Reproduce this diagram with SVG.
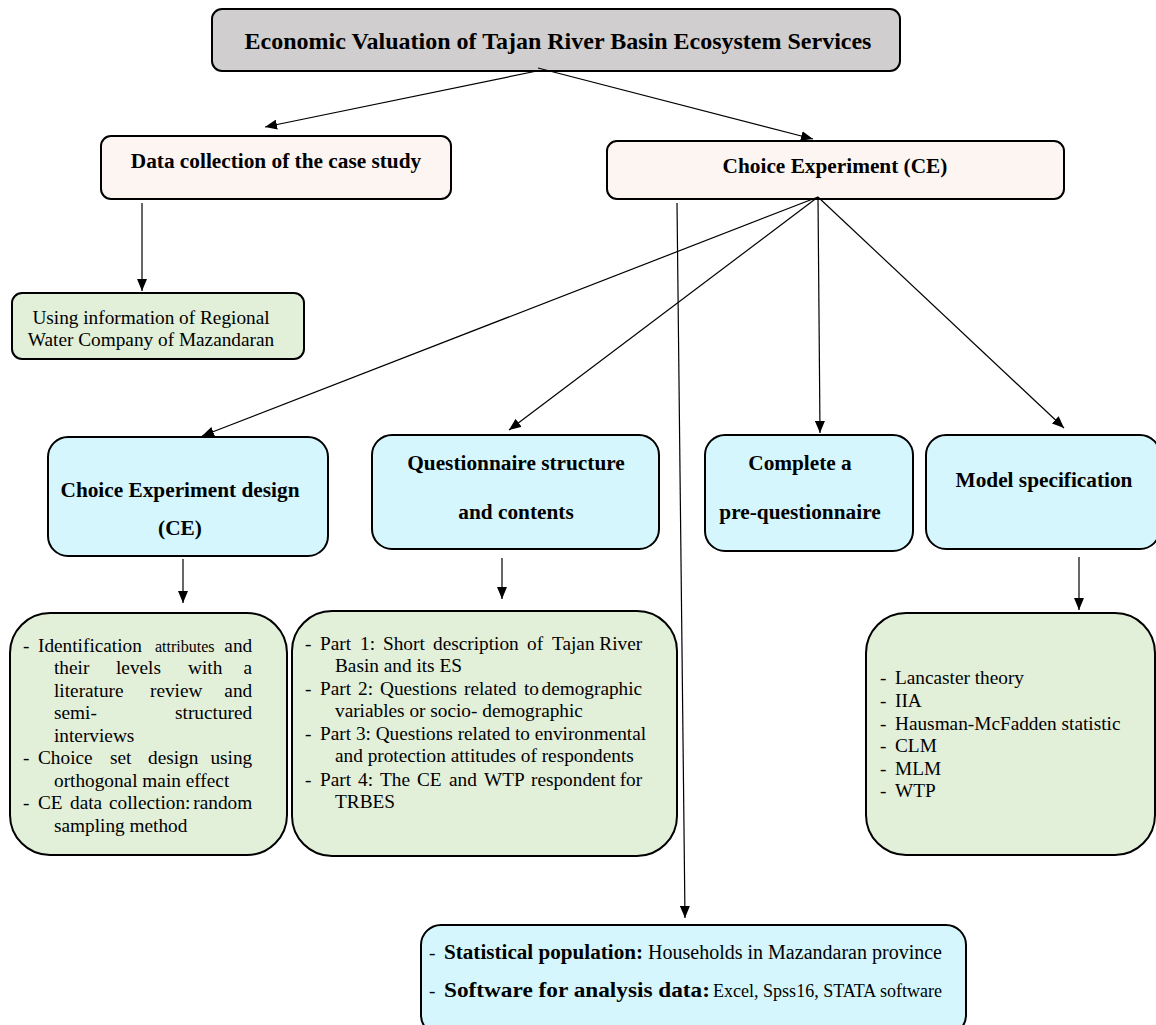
<svg xmlns="http://www.w3.org/2000/svg" width="1156" height="1025" viewBox="0 0 1156 1025">
<style>
.box{stroke:#000;stroke-width:2}
.grey{fill:#d0cece}
.peach{fill:#fdf5f1}
.blue{fill:#d4f6fc}
.green{fill:#e2efd9}
.h{font-family:"Liberation Serif","Times New Roman",serif;font-weight:bold;font-size:21.3px;fill:#000}
.t{font-family:"Liberation Serif","Times New Roman",serif;font-size:19.3px;fill:#000}
.c{text-anchor:middle}
.e{text-anchor:end}
.conn line{stroke:#000;stroke-width:1.2;fill:none}
</style>
<defs>
<marker id="ah" markerWidth="12" markerHeight="10" refX="12" refY="5" orient="auto" markerUnits="userSpaceOnUse">
<path d="M0,0 L12,5 L0,10 z" fill="#000"/>
</marker>
</defs>
<rect width="1156" height="1025" fill="#fff"/>

<g id="title">
<rect class="box grey" x="212" y="9" width="688" height="62" rx="10"/>
<text class="h c" x="558" y="49" style="font-size:24px">Economic Valuation of Tajan River Basin Ecosystem Services</text>
</g>

<g id="data-collection">
<rect class="box peach" x="101" y="136" width="350" height="63" rx="10"/>
<text class="h c" x="276" y="168">Data collection of the case study</text>
</g>

<g id="choice-experiment">
<rect class="box peach" x="607" y="141" width="457" height="58" rx="10"/>
<text class="h c" x="835" y="173">Choice Experiment (CE)</text>
</g>

<g id="regional-water">
<rect class="box green" x="12" y="293" width="292" height="66" rx="10"/>
<text class="t c" x="151" y="324">Using information of Regional</text>
<text class="t c" x="151" y="346">Water Company of Mazandaran</text>
</g>

<g id="ce-design">
<rect class="box blue" x="48" y="437" width="280" height="119" rx="20"/>
<text class="h c" x="180" y="497">Choice Experiment design</text>
<text class="h c" x="180" y="535">(CE)</text>
</g>

<g id="questionnaire">
<rect class="box blue" x="372" y="435" width="287" height="114" rx="20"/>
<text class="h c" x="516" y="470">Questionnaire structure</text>
<text class="h c" x="516" y="519">and contents</text>
</g>

<g id="pre-questionnaire">
<rect class="box blue" x="705" y="435" width="208" height="116" rx="20"/>
<text class="h c" x="800" y="470">Complete a</text>
<text class="h c" x="800" y="519">pre-questionnaire</text>
</g>

<g id="model-spec">
<rect class="box blue" x="926" y="435" width="234" height="114" rx="20"/>
<text class="h c" x="1044" y="487">Model specification</text>
</g>

<g id="ce-design-details">
<rect class="box green" x="10" y="613" width="277" height="242" rx="40"/>
<text class="t">
<tspan x="23" y="652">-</tspan><tspan x="38" y="652">Identification</tspan><tspan x="155" y="652" style="font-size:16px">attributes</tspan><tspan x="257" y="652" class="e">and</tspan>
<tspan x="54" y="674">their</tspan><tspan x="116" y="674">levels</tspan><tspan x="188" y="674">with</tspan><tspan x="257" y="674" class="e">a</tspan>
<tspan x="54" y="697">literature</tspan><tspan x="150" y="697">review</tspan><tspan x="257" y="697" class="e">and</tspan>
<tspan x="54" y="719">semi-</tspan><tspan x="257" y="719" class="e">structured</tspan>
<tspan x="54" y="742">interviews</tspan>
<tspan x="23" y="764">-</tspan><tspan x="38" y="764">Choice</tspan><tspan x="110" y="764">set</tspan><tspan x="148" y="764">design</tspan><tspan x="257" y="764" class="e">using</tspan>
<tspan x="54" y="787">orthogonal main effect</tspan>
<tspan x="23" y="809">-</tspan><tspan x="38" y="809">CE</tspan><tspan x="70" y="809">data</tspan><tspan x="109" y="809">collection:</tspan><tspan x="257" y="809" class="e">random</tspan>
<tspan x="54" y="832">sampling method</tspan>
</text>
</g>

<g id="questionnaire-details">
<rect class="box green" x="292" y="611" width="385" height="245" rx="40"/>
<text class="t">
<tspan x="305" y="650">-</tspan><tspan x="320" y="650">Part</tspan><tspan x="360" y="650">1:</tspan><tspan x="383" y="650">Short</tspan><tspan x="433" y="650">description</tspan><tspan x="527" y="650">of</tspan><tspan x="552" y="650">Tajan</tspan><tspan x="647" y="650" class="e">River</tspan>
<tspan x="335" y="672">Basin and its ES</tspan>
<tspan x="305" y="695">-</tspan><tspan x="320" y="695">Part</tspan><tspan x="358" y="695">2:</tspan><tspan x="380" y="695">Questions</tspan><tspan x="464" y="695">related</tspan><tspan x="524" y="695">to</tspan><tspan x="647" y="695" class="e">demographic</tspan>
<tspan x="335" y="717">variables or socio- demographic</tspan>
<tspan x="305" y="740">-</tspan><tspan x="320" y="740">Part 3: Questions related to environmental</tspan>
<tspan x="335" y="762">and protection attitudes of respondents</tspan>
<tspan x="305" y="786">-</tspan><tspan x="320" y="786">Part</tspan><tspan x="358" y="786">4:</tspan><tspan x="380" y="786">The</tspan><tspan x="417" y="786">CE</tspan><tspan x="449" y="786">and</tspan><tspan x="484" y="786">WTP</tspan><tspan x="531" y="786">respondent</tspan><tspan x="647" y="786" class="e">for</tspan>
<tspan x="335" y="808">TRBES</tspan>
</text>
</g>

<g id="model-details">
<rect class="box green" x="866" y="613" width="289" height="242" rx="40"/>
<text class="t">
<tspan x="880" y="684">-</tspan><tspan x="895" y="684">Lancaster theory</tspan>
<tspan x="880" y="707">-</tspan><tspan x="895" y="707">IIA</tspan>
<tspan x="880" y="730">-</tspan><tspan x="895" y="730">Hausman-McFadden statistic</tspan>
<tspan x="880" y="752">-</tspan><tspan x="895" y="752">CLM</tspan>
<tspan x="880" y="775">-</tspan><tspan x="895" y="775">MLM</tspan>
<tspan x="880" y="797">-</tspan><tspan x="895" y="797">WTP</tspan>
</text>
</g>

<g id="population-software">
<rect class="box blue" x="421" y="925" width="545" height="110" rx="20"/>
<text class="t">
<tspan x="429" y="959">-</tspan><tspan x="444" y="959" style="font-weight:bold;font-size:21.3px" textLength="199" lengthAdjust="spacingAndGlyphs">Statistical population:</tspan><tspan x="648" y="959" style="font-size:20px" textLength="294" lengthAdjust="spacingAndGlyphs">Households in Mazandaran province</tspan>
<tspan x="429" y="997">-</tspan><tspan x="444" y="997" style="font-weight:bold;font-size:22px" textLength="266" lengthAdjust="spacingAndGlyphs">Software for analysis data:</tspan><tspan x="713" y="997" style="font-size:18.2px" textLength="229" lengthAdjust="spacingAndGlyphs">Excel, Spss16, STATA software</tspan>
</text>
</g>

<g id="connectors" class="conn">
<line x1="537" y1="71" x2="265" y2="127" marker-end="url(#ah)"/>
<line x1="538" y1="68" x2="813" y2="139" marker-end="url(#ah)"/>
<line x1="142" y1="203" x2="142" y2="291" marker-end="url(#ah)"/>
<line x1="818" y1="197" x2="202" y2="436" marker-end="url(#ah)"/>
<line x1="818" y1="197" x2="509" y2="430" marker-end="url(#ah)"/>
<line x1="818" y1="197" x2="820" y2="433" marker-end="url(#ah)"/>
<line x1="818" y1="197" x2="1064" y2="428" marker-end="url(#ah)"/>
<line x1="677" y1="203" x2="685" y2="918" marker-end="url(#ah)"/>
<line x1="183" y1="559" x2="183" y2="603" marker-end="url(#ah)"/>
<line x1="502" y1="558" x2="502" y2="599" marker-end="url(#ah)"/>
<line x1="1079" y1="557" x2="1079" y2="610" marker-end="url(#ah)"/>
</g>
</svg>
